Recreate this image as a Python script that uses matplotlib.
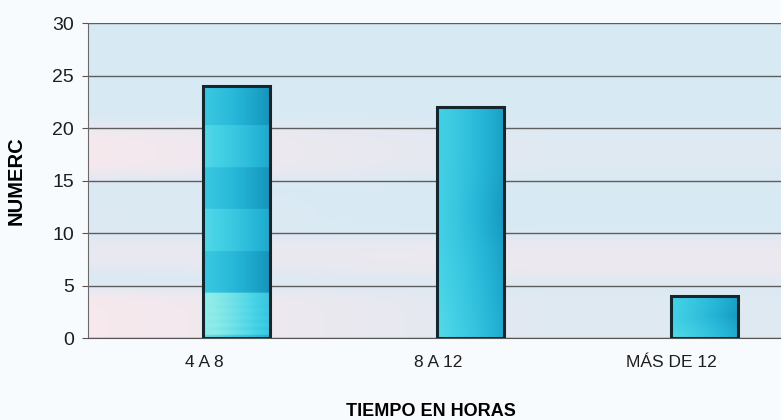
import numpy as np
import matplotlib.pyplot as plt
from matplotlib.colors import LinearSegmentedColormap
from matplotlib.patches import Rectangle

plt.rcParams['font.family'] = ['Liberation Sans', 'DejaVu Sans']

categorias = ["4 A 8", "8 A 12", "MÁS DE 12"]
valores = [24, 22, 4]
y_ticks = [0, 5, 10, 15, 20, 25, 30]

fig = plt.figure(figsize=(7.81, 4.2), dpi=100)
fig.patch.set_facecolor('#f8fbfd')
ax = fig.add_axes([0.1127, 0.195, 0.8873, 0.75])

x = np.arange(len(categorias))
x0, x1 = -0.635, 2.327
ax.set_xlim(x0, x1)
ax.set_ylim(0, 30)

# background: pale sky blue with rose bands, stronger on the left side
yy = np.linspace(0, 30, 300)[:, None]
xx = np.linspace(0, 1, 300)[None, :]
def banda(a, b, w=0.8):
    return 0.5 * (np.tanh((yy - a) / w) - np.tanh((yy - b) / w))
rosa_izq = 0.95 * banda(-2, 4.6) + 0.55 * banda(6.5, 9.5) + 0.9 * banda(15.3, 20.2) + 0.15 * banda(10, 14)
rosa_der = 0.25 * banda(-2, 4.5) + 0.65 * banda(5.5, 9.5) + 0.25 * banda(15.5, 20)
peso = np.clip(xx * 1.5, 0, 1)
rosa = rosa_izq * (1 - peso) + rosa_der * peso
azul = np.array([0.845, 0.915, 0.955])
rose = np.array([0.975, 0.91, 0.93])
bg = azul[None, None, :] * (1 - rosa[..., None]) + rose[None, None, :] * rosa[..., None]
ax.imshow(bg, extent=[x0, x1, 0, 30], origin='lower', aspect='auto', zorder=0)

ax.yaxis.grid(True, color='#5e5e5e', linewidth=1.0, zorder=1)
ax.set_axisbelow(True)

# cyan bars: darker toward the right edge; the first one has horizontal shade bands
cmap = LinearSegmentedColormap.from_list('cian', ['#8fece8', '#45d2e6', '#24b4d6', '#128fb8'])
ancho = 0.286
intensidad = [1.0, 0.0, 0.0]
for xi, v, k in zip(x, valores, intensidad):
    gx = np.linspace(0, 1, 100)[None, :]
    gy = np.linspace(0, v, 400)[:, None]
    oscuro = (((gy - 0.3) // 4) % 2 == 1).astype(float)
    base = 0.35 + 0.5 * gx ** 1.3
    grad = base + k * (0.18 * oscuro - 0.08)
    fondo = np.clip((4.3 - gy) / 4.3, 0, 1) * k
    grad = grad - 0.3 * (gy < 4.3) * k + 0.04 * np.sin(gy * 9.0) * fondo
    if k == 0:
        grad = grad - 0.1 * np.clip((v * 0.45 - gy) / (v * 0.45), 0, 1) \
            + 0.06 * np.exp(-((gy - v * 0.55) / (v * 0.12)) ** 2) * gx
    im = ax.imshow(np.clip(grad, 0, 1), extent=[xi - ancho / 2, xi + ancho / 2, 0, v],
                   origin='lower', aspect='auto', cmap=cmap, vmin=0, vmax=1, zorder=2)
    rect = Rectangle((xi - ancho / 2, 0), ancho, v, facecolor='none',
                     edgecolor='#16262f', linewidth=2.2, zorder=3)
    ax.add_patch(rect)
    im.set_clip_path(rect)

# category labels sit a little left of the bar centres
ax.set_xticks(x - 0.14)
ax.set_xticklabels(categorias, fontsize=12.5, color='#1e1e1e')
ax.set_yticks(y_ticks)
ax.set_yticklabels([str(t) for t in y_ticks], fontsize=14, color='#1e1e1e')
ax.tick_params(axis='x', length=0, pad=12)
ax.tick_params(axis='y', length=4, color='#555555', pad=6)

for s in ['top', 'right']:
    ax.spines[s].set_visible(False)
ax.spines['left'].set_color('#6a6a6a')
ax.spines['bottom'].set_color('#555555')

ax.set_xlabel("TIEMPO EN HORAS", fontsize=13, fontweight='bold')
ax.xaxis.set_label_coords((431 - 88) / 693, -0.205)
ax.set_ylabel("NUMERC", fontsize=14.5, fontweight='bold')
ax.yaxis.set_label_coords(-(88 - 26) / 693, 0.5)

fig.savefig('out.png', dpi=100, facecolor=fig.get_facecolor())
